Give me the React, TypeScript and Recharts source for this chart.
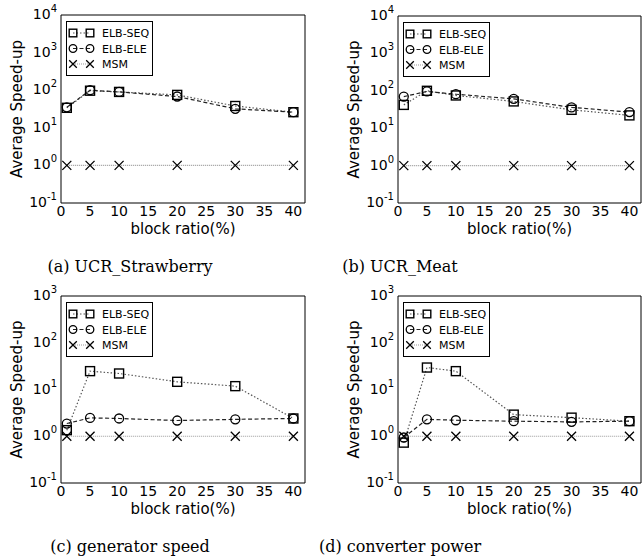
import React from 'react';
import { LineChart, Line, XAxis, YAxis, Legend } from 'recharts';

// ---- data ----
const blockRatio = [1, 5, 10, 20, 30, 40];
const xTicks = [0, 5, 10, 15, 20, 25, 30, 35, 40];
const ticksTop4 = [0.1, 1, 10, 100, 1000, 10000];
const ticksTop3 = [0.1, 1, 10, 100, 1000];

const strawberrySeq = [34, 97, 90, 75, 38, 26];
const strawberryEle = [35, 100, 90, 68, 32, 26];
const strawberryMsm = [1, 1, 1, 1, 1, 1];

const meatSeq = [42, 100, 75, 52, 31, 22];
const meatEle = [70, 96, 81, 61, 36, 27];
const meatMsm = [1, 1, 1, 1, 1, 1];

const generatorSeq = [1.35, 24.7, 22, 14.6, 11.8, 2.4];
const generatorEle = [1.87, 2.47, 2.4, 2.17, 2.3, 2.4];
const generatorMsm = [1, 1, 1, 1, 1, 1];

const converterSeq = [0.73, 29.5, 24.7, 2.9, 2.5, 2.1];
const converterEle = [0.94, 2.3, 2.2, 2.1, 2.03, 2.1];
const converterMsm = [1, 1, 1, 1, 1, 1];

const captions = ['(a) UCR_Strawberry', '(b) UCR_Meat', '(c) generator speed', '(d) converter power'];

// ---- styles ----
const SANS = 'DejaVu Sans';
const seriesStyle = [
  { key: 'seq', name: 'ELB-SEQ', shape: 'square', stroke: '#555', dash: '1.5 2', width: 1.2 },
  { key: 'ele', name: 'ELB-ELE', shape: 'circle', stroke: '#222', dash: '4 2.5', width: 1.2 },
  { key: 'msm', name: 'MSM', shape: 'cross', stroke: '#999', dash: '1 1', width: 1.1 },
];

function minorTicks(majors: number[]) {
  const out: number[] = [];
  for (let i = 0; i < majors.length - 1; i++) {
    for (let k = 2; k <= 9; k++) out.push(majors[i] * k);
  }
  return out;
}

function Marker({ shape, cx, cy, s }: any) {
  if (cx == null || cy == null) return null;
  if (shape === 'square') {
    return <rect x={cx - s} y={cy - s} width={2 * s} height={2 * s} fill="none" stroke="#000" strokeWidth={1.4} />;
  }
  if (shape === 'circle') {
    return <circle cx={cx} cy={cy} r={s} fill="none" stroke="#000" strokeWidth={1.3} />;
  }
  return (
    <path
      d={`M${cx - s},${cy - s}L${cx + s},${cy + s}M${cx - s},${cy + s}L${cx + s},${cy - s}`}
      stroke="#000"
      strokeWidth={1.3}
      fill="none"
    />
  );
}

function YTick(props: any) {
  const { x, y, payload } = props;
  const exp = Math.round(Math.log10(payload.value));
  return (
    <text x={x} y={y} textAnchor="end" fontFamily={SANS} fontSize={14} fill="#000">
      <tspan dy={4}>10</tspan>
      <tspan dy={-7} fontSize={10}>{String(exp)}</tspan>
    </text>
  );
}

function YTitle(props: any) {
  const vb = props.viewBox || {};
  const x = vb.x + vb.width - 44;
  const y = vb.y + vb.height / 2;
  return (
    <text
      x={x}
      y={y}
      transform={`rotate(-90, ${x}, ${y})`}
      textAnchor="middle"
      dominantBaseline="central"
      fontFamily={SANS}
      fontSize={15}
      fill="#000"
    >
      Average Speed-up
    </text>
  );
}

function XTitle(props: any) {
  const vb = props.viewBox || {};
  return (
    <text x={vb.x + vb.width / 2} y={vb.y + 31} textAnchor="middle" fontFamily={SANS} fontSize={15} fill="#000">
      block ratio(%)
    </text>
  );
}

function LegendBox() {
  return (
    <svg width={88} height={56} style={{ display: 'block' }}>
      <rect x={0.5} y={0.5} width={86} height={54} fill="#fff" stroke="#000" strokeWidth={1} />
      {seriesStyle.map((s, i) => {
        const y = 12 + i * 15.5;
        return (
          <g key={s.key}>
            <line x1={7} y1={y} x2={24} y2={y} stroke={s.stroke} strokeWidth={s.width} strokeDasharray={s.dash} />
            <Marker shape={s.shape} cx={7} cy={y} s={3.8} />
            <Marker shape={s.shape} cx={24} cy={y} s={3.8} />
            <text x={36} y={y + 4} fontFamily={SANS} fontSize={11} fill="#000">
              {s.name}
            </text>
          </g>
        );
      })}
    </svg>
  );
}

function Panel({ left, top, yAxisWidth, rightMargin, plotTop, majors, seq, ele, msm }: any) {
  const W = 321;
  const H = 240;
  const data = blockRatio.map((x, i) => ({ x, seq: seq[i], ele: ele[i], msm: msm[i] }));
  const domain = [majors[0], majors[majors.length - 1]];
  const allYTicks = [...majors, ...minorTicks(majors)];
  return (
    <div style={{ position: 'absolute', left, top, width: W, height: H }}>
      <LineChart width={W} height={H} data={data} margin={{ top: plotTop, right: rightMargin, left: 0, bottom: 0 }}>
        <XAxis
          xAxisId={0}
          dataKey="x"
          type="number"
          domain={[0, 42]}
          allowDataOverflow
          ticks={xTicks}
          interval={0}
          height={37}
          tickLine={false}
          tickSize={0}
          tickMargin={3}
          axisLine={{ stroke: '#000', strokeWidth: 1 }}
          tick={{ fontFamily: SANS, fontSize: 14, fill: '#000' }}
          label={<XTitle />}
        />
        <XAxis
          xAxisId="bm"
          type="number"
          orientation="bottom"
          mirror
          domain={[0, 42]}
          allowDataOverflow
          ticks={xTicks}
          interval={0}
          tick={false}
          tickSize={4}
          tickLine={{ stroke: '#000' }}
          axisLine={false}
        />
        <XAxis
          xAxisId="top"
          type="number"
          orientation="top"
          mirror
          domain={[0, 42]}
          allowDataOverflow
          ticks={xTicks}
          interval={0}
          tick={false}
          tickSize={4}
          tickLine={{ stroke: '#000' }}
          axisLine={{ stroke: '#000', strokeWidth: 1 }}
        />
        <YAxis
          yAxisId={0}
          type="number"
          scale="log"
          domain={domain}
          allowDataOverflow
          ticks={majors}
          interval={0}
          width={yAxisWidth}
          tickLine={false}
          tickSize={0}
          tickMargin={4}
          axisLine={{ stroke: '#000', strokeWidth: 1 }}
          tick={<YTick />}
          label={<YTitle />}
        />
        <YAxis
          yAxisId="lm"
          type="number"
          scale="log"
          orientation="left"
          mirror
          domain={domain}
          allowDataOverflow
          ticks={allYTicks}
          interval={0}
          tick={false}
          tickSize={3}
          tickLine={{ stroke: '#000' }}
          axisLine={false}
        />
        <YAxis
          yAxisId="rm"
          type="number"
          scale="log"
          orientation="right"
          mirror
          domain={domain}
          allowDataOverflow
          ticks={allYTicks}
          interval={0}
          tick={false}
          tickSize={3}
          tickLine={{ stroke: '#000' }}
          axisLine={{ stroke: '#000', strokeWidth: 1 }}
        />
        {seriesStyle.map((s) => (
          <Line
            key={s.key}
            dataKey={s.key}
            name={s.name}
            type="linear"
            stroke={s.stroke}
            strokeWidth={s.width}
            strokeDasharray={s.dash}
            isAnimationActive={false}
            dot={(p: any) => <Marker key={`${s.key}-${p.index}`} shape={s.shape} cx={p.cx} cy={p.cy} s={4.5} />}
            activeDot={false}
          />
        ))}
        <Legend
          layout="vertical"
          align="center"
          verticalAlign="middle"
          wrapperStyle={{ left: yAxisWidth + 5, top: plotTop + 6, width: 88, height: 56 }}
          content={() => <LegendBox />}
        />
      </LineChart>
    </div>
  );
}

export default function App() {
  return (
    <div style={{ position: 'absolute', left: 0, top: 0, width: 642, height: 560, background: '#fff', overflow: 'hidden' }}>
      <Panel left={0} top={0} yAxisWidth={61} rightMargin={16} plotTop={15} majors={ticksTop4}
        seq={strawberrySeq} ele={strawberryEle} msm={strawberryMsm} />
      <Panel left={321} top={0} yAxisWidth={77} rightMargin={1} plotTop={16} majors={ticksTop4}
        seq={meatSeq} ele={meatEle} msm={meatMsm} />
      <Panel left={0} top={280} yAxisWidth={61} rightMargin={16} plotTop={16} majors={ticksTop3}
        seq={generatorSeq} ele={generatorEle} msm={generatorMsm} />
      <Panel left={321} top={280} yAxisWidth={77} rightMargin={1} plotTop={16} majors={ticksTop3}
        seq={converterSeq} ele={converterEle} msm={converterMsm} />
      <svg width={642} height={560} style={{ position: 'absolute', left: 0, top: 0, pointerEvents: 'none' }}>
        {captions.map((c, i) => (
          <text
            key={c}
            x={i % 2 === 0 ? 130 : 400}
            y={i < 2 ? 272 : 552}
            textAnchor="middle"
            fontFamily="DejaVu Serif"
            fontSize={16}
            fill="#000"
          >
            {c}
          </text>
        ))}
      </svg>
    </div>
  );
}
